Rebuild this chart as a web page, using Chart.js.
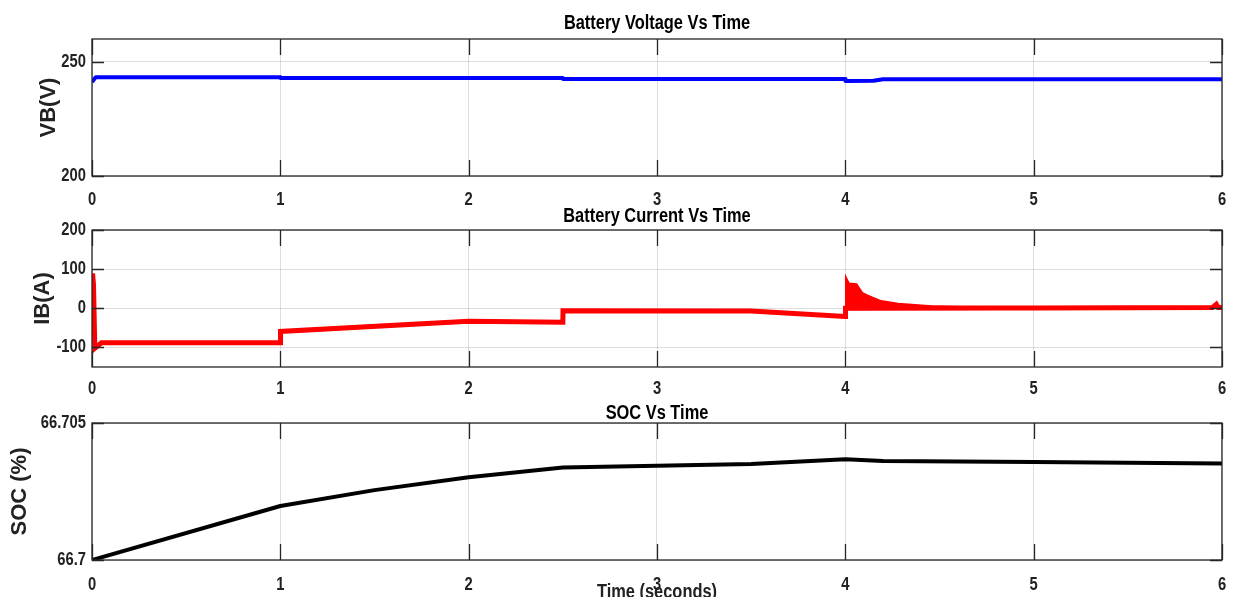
<!DOCTYPE html>
<html>
<head>
<meta charset="utf-8">
<title>Battery Voltage, Current and SOC</title>
<script src="https://cdn.jsdelivr.net/npm/chart.js@4.4.1/dist/chart.umd.min.js"></script>
<style>
  html, body { margin: 0; padding: 0; background: #fff; }
  body { width: 1241px; height: 606px; position: relative; overflow: hidden; }
  .panel { position: absolute; left: 0; width: 1241px; }
  #p1 { top: 0; height: 210px; }
  #p2 { top: 195px; height: 210px; }
  #p3 { top: 388px; height: 209px; }
</style>
</head>
<body>
<div class="panel" id="p1"><canvas id="voltChart"></canvas></div>
<div class="panel" id="p2"><canvas id="currentChart"></canvas></div>
<div class="panel" id="p3"><canvas id="socChart"></canvas></div>
<script>
// tick labels
var timeTicks = [0, 1, 2, 3, 4, 5, 6];
var voltTicks = [200, 250];
var currentTicks = [-100, 0, 100, 200];
var socTicks = [66.7, 66.705];

// battery voltage (V)
var voltTime = [0, 0.02, 1, 1.001, 2.5, 2.501, 4, 4.001, 4.15, 4.2, 6];
var voltValues = [241.2, 243.3, 243.3, 242.9, 242.9, 242.5, 242.5, 241.6, 241.7, 242.4, 242.4];

// battery current (A)
var currentTime = [0, 0.003, 0.008, 0.015, 0.05, 1, 1.001, 2, 2.5, 2.501, 3.5, 4, 4.001, 4.5, 5, 5.95, 5.97, 5.98, 6];
var currentValues = [0, 89, 60, -102, -88, -88, -59, -33, -35.5, -6, -7, -21, 0, 1, 1, 2, 10, 2, 2];

// ripple envelope after the step at t = 4 s
var rippleTime = [4, 4.002, 4.02, 4.06, 4.09, 4.12, 4.19, 4.28, 4.46, 4.6, 5];
var rippleHigh = [-21, 81, 64, 62, 40, 33, 19, 12, 6, 4, 3];
var rippleLow = [-21, -5, -5, -5, -5, -5, -5, -5, -5, -5, -4];

// state of charge (%)
var socTime = [0, 1, 1.5, 2, 2.5, 3, 3.5, 4, 4.2, 5, 6];
var socValues = [66.7, 66.70197, 66.70255, 66.70302, 66.70338, 66.70344, 66.7035, 66.70368, 66.70361, 66.70358, 66.70352];

function pairs(xs, ys) {
  return xs.map(function (x, i) { return { x: x, y: ys[i] }; });
}

var narrow = "'Arial Narrow', 'Liberation Sans', Arial, sans-serif";
var wide = "'Liberation Sans', Arial, sans-serif";

// no narrow face installed: squeeze text set in the narrow family
function condense(ctx) {
  var fillText = ctx.fillText;
  ctx.fillText = function (text, x, y) {
    if (this.font.indexOf('Narrow') < 0) {
      return fillText.apply(this, arguments);
    }
    this.save();
    this.translate(x, y);
    this.scale(0.82, 1);
    fillText.call(this, text, 0, 0);
    this.restore();
  };
}

// box round the axes and inward tick marks, like MATLAB
var matlabBox = {
  id: 'matlabBox',
  afterDatasetsDraw: function (chart) {
    var a = chart.chartArea;
    var c = chart.ctx;
    var xs = chart.scales.x;
    var ys = chart.scales.y;
    c.save();
    c.strokeStyle = '#262626';
    c.lineWidth = 1.3;
    c.beginPath();
    xs.ticks.forEach(function (t) {
      var px = Math.round(xs.getPixelForValue(t.value)) + 0.5;
      c.moveTo(px, a.top); c.lineTo(px, a.top + 16);
      c.moveTo(px, a.bottom); c.lineTo(px, a.bottom - 16);
    });
    ys.ticks.forEach(function (t) {
      var py = Math.round(ys.getPixelForValue(t.value)) + 0.5;
      c.moveTo(a.left, py); c.lineTo(a.left + 12, py);
      c.moveTo(a.right, py); c.lineTo(a.right - 12, py);
    });
    c.stroke();
    c.strokeRect(a.left, a.top, a.right - a.left, a.bottom - a.top);
    c.restore();
  }
};

function makeChart(id, cfg) {
  var ctx = document.getElementById(id).getContext('2d');
  condense(ctx);
  return new Chart(ctx, {
    type: 'line',
    data: { datasets: cfg.datasets },
    plugins: [matlabBox],
    options: {
      responsive: true,
      maintainAspectRatio: false,
      animation: false,
      layout: { padding: { left: 0, right: 19, top: 0, bottom: 0 } },
      elements: { point: { radius: 0 }, line: { tension: 0 } },
      plugins: {
        legend: { display: false },
        tooltip: { enabled: false },
        title: {
          display: true,
          fullSize: false,
          text: cfg.title,
          color: '#000',
          font: { family: narrow, size: 20, weight: 'bold', lineHeight: 1 },
          padding: cfg.titlePad
        }
      },
      scales: {
        x: {
          type: 'linear',
          min: 0,
          max: 6,
          afterBuildTicks: function (scale) {
            scale.ticks = timeTicks.map(function (v) { return { value: v }; });
          },
          afterFit: function (scale) { scale.height = cfg.xHeight; },
          grid: { color: 'rgba(0,0,0,0.13)', lineWidth: 1, drawTicks: false },
          border: { display: false },
          ticks: {
            color: '#222',
            padding: cfg.xPad,
            font: { family: narrow, size: 18, weight: 'bold' },
            callback: function (v) { return String(v); }
          },
          title: cfg.xTitle || { display: false }
        },
        y: {
          min: cfg.yMin,
          max: cfg.yMax,
          afterBuildTicks: function (scale) {
            scale.ticks = cfg.yTicks.map(function (v) { return { value: v }; });
          },
          afterFit: function (scale) { scale.width = 92; },
          grid: { color: 'rgba(0,0,0,0.13)', lineWidth: 1, drawTicks: false },
          border: { display: false },
          ticks: {
            color: '#222',
            padding: 6,
            font: { family: narrow, size: 18, weight: 'bold' },
            callback: function (v) { return String(v); }
          },
          title: {
            display: true,
            text: cfg.yLabel,
            color: '#222',
            font: { family: wide, size: 22, weight: 'bold', lineHeight: 1 },
            padding: { top: cfg.yTitlePad, bottom: 0 }
          }
        }
      }
    }
  });
}

makeChart('voltChart', {
  title: 'Battery Voltage Vs Time',
  titlePad: { top: 13.5, bottom: 5.5 },
  xHeight: 34,
  xPad: 13,
  yMin: 200,
  yMax: 260,
  yTicks: voltTicks,
  yLabel: 'VB(V)',
  yTitlePad: 38,
  datasets: [{
    label: 'VB',
    data: pairs(voltTime, voltValues),
    borderColor: '#0000ff',
    borderWidth: 4,
    borderJoinStyle: 'round',
    fill: false
  }]
});

makeChart('currentChart', {
  title: 'Battery Current Vs Time',
  titlePad: { top: 11.5, bottom: 3.5 },
  xHeight: 38,
  xPad: 11,
  yMin: -150,
  yMax: 200,
  yTicks: currentTicks,
  yLabel: 'IB(A)',
  yTitlePad: 32,
  datasets: [{
    label: 'ripple high',
    data: pairs(rippleTime, rippleHigh),
    borderColor: '#ff0000',
    backgroundColor: '#ff0000',
    borderWidth: 1.5,
    fill: '+1'
  }, {
    label: 'ripple low',
    data: pairs(rippleTime, rippleLow),
    borderColor: '#ff0000',
    borderWidth: 0,
    fill: false
  }, {
    label: 'IB',
    data: pairs(currentTime, currentValues),
    borderColor: '#ff0000',
    borderWidth: 5,
    fill: false
  }]
});

makeChart('socChart', {
  title: 'SOC Vs Time',
  titlePad: { top: 15, bottom: 0 },
  xHeight: 37,
  xPad: 14,
  yMin: 66.7,
  yMax: 66.705,
  yTicks: socTicks,
  yLabel: 'SOC (%)',
  yTitlePad: 9,
  xTitle: {
    display: true,
    text: 'Time (seconds)',
    color: '#222',
    font: { family: narrow, size: 20, weight: 'bold', lineHeight: 1 },
    padding: { top: 0, bottom: -5 }
  },
  datasets: [{
    label: 'SOC',
    data: pairs(socTime, socValues),
    borderColor: '#000000',
    borderWidth: 4,
    borderJoinStyle: 'round',
    fill: false
  }]
});
</script>
</body>
</html>
